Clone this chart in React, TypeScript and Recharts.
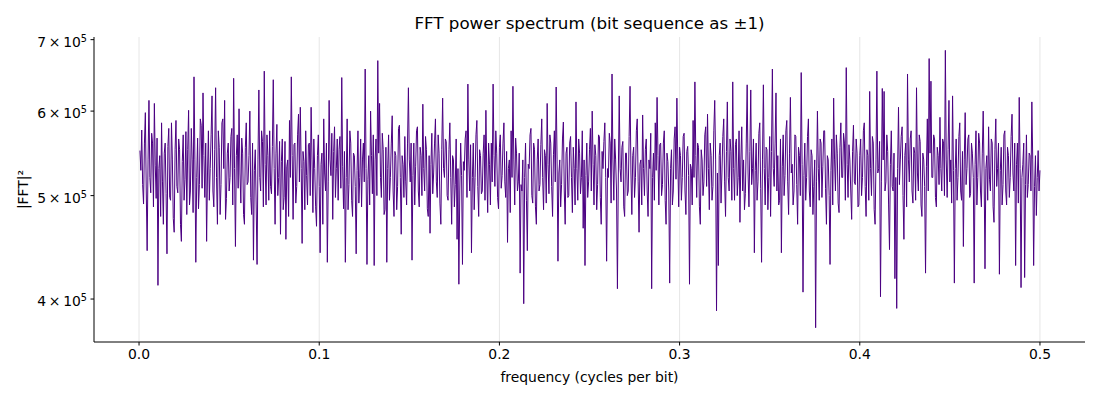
import React from 'react';
import { LineChart, Line, XAxis, YAxis, ReferenceLine } from 'recharts';

// |FFT|^2 values, in units of 1e3 (one per frequency bin)
const powerK = [
  551, 528, 576, 512, 491, 560, 598, 505, 444, 540, 614, 520, 503, 572, 560, 488, 610, 534, 497, 566,
  412, 530, 545, 478, 585, 515, 470, 548, 560, 502, 441, 556, 578, 498, 495, 585, 540, 476, 462, 552,
  588, 510, 503, 565, 552, 470, 453, 538, 570, 495, 518, 574, 480, 552, 601, 490, 505, 578, 540, 482,
  646, 540, 433, 520, 566, 486, 512, 590, 582, 508, 624, 545, 498, 560, 453, 525, 575, 495, 530, 570,
  620, 505, 488, 552, 631, 520, 470, 575, 555, 480, 512, 585, 590, 530, 614, 475, 497, 548, 560, 505,

  520, 568, 578, 490, 644, 530, 448, 545, 570, 508, 603, 525, 492, 566, 548, 480, 470, 555, 585, 512,
  515, 545, 600, 498, 480, 560, 435, 528, 552, 490, 431, 540, 628, 520, 505, 575, 562, 488, 654, 535,
  490, 570, 545, 495, 575, 510, 502, 556, 642, 530, 470, 548, 583, 500, 520, 562, 460, 538, 565, 485,
  498, 562, 455, 532, 540, 478, 588, 520, 646, 545, 475, 558, 560, 492, 510, 570, 596, 515, 605, 530,
  451, 550, 538, 485, 575, 522, 490, 558, 560, 500, 605, 540, 482, 565, 530, 488, 468, 545, 570, 510,

  442, 535, 548, 470, 590, 525, 505, 560, 433, 515, 614, 540, 522, 572, 475, 550, 580, 498, 530, 565,
  495, 552, 568, 508, 645, 532, 486, 550, 433, 520, 590, 485, 512, 575, 560, 495, 478, 548, 545, 510,
  441, 528, 575, 492, 520, 565, 488, 540, 560, 515, 657, 530, 431, 518, 545, 490, 600, 545, 502, 570,
  430, 540, 565, 500, 669, 548, 610, 520, 498, 572, 552, 480, 485, 555, 433, 530, 570, 495, 520, 560,
  594, 505, 478, 550, 545, 485, 510, 578, 582, 520, 460, 545, 535, 498, 568, 515, 490, 560, 631, 540,

  515, 560, 435, 522, 560, 490, 532, 575, 580, 505, 488, 555, 545, 500, 609, 530, 505, 568, 552, 486,
  478, 545, 461, 535, 572, 502, 525, 560, 590, 515, 498, 570, 548, 492, 470, 552, 617, 530, 520, 565,
  562, 500, 495, 552, 585, 520, 470, 545, 540, 488, 512, 565, 455, 530, 413, 505, 560, 522, 431, 538,
  528, 565, 575, 498, 636, 540, 505, 558, 442, 520, 560, 485, 520, 570, 588, 510, 478, 552, 545, 502,
  505, 548, 570, 495, 601, 525, 482, 560, 535, 490, 560, 515, 636, 545, 510, 575, 548, 498, 486, 555,

  570, 508, 522, 560, 585, 515, 498, 550, 452, 530, 540, 482, 575, 520, 633, 540, 490, 566, 548, 505,
  515, 548, 423, 512, 505, 540, 396, 520, 560, 495, 444, 535, 530, 570, 578, 500, 492, 560, 552, 488,
  470, 540, 565, 505, 512, 558, 590, 520, 485, 552, 545, 492, 610, 535, 502, 570, 560, 510, 478, 546,
  575, 515, 632, 540, 434, 525, 540, 488, 512, 565, 586, 505, 470, 548, 555, 498, 500, 560, 568, 520,
  482, 555, 530, 490, 612, 530, 495, 565, 548, 502, 520, 575, 466, 540, 430, 522, 560, 498, 515, 552,

  578, 505, 600, 535, 490, 558, 545, 485, 512, 570, 568, 498, 470, 550, 530, 562, 585, 520, 434, 530,
  520, 572, 560, 492, 650, 540, 495, 565, 540, 505, 409, 525, 620, 530, 515, 555, 562, 488, 478, 548,
  548, 500, 505, 568, 633, 525, 480, 545, 555, 498, 520, 575, 590, 515, 462, 535, 540, 490, 595, 530,
  500, 552, 565, 505, 478, 540, 530, 572, 409, 520, 548, 495, 585, 528, 618, 545, 490, 558, 560, 500,
  512, 560, 575, 495, 470, 548, 538, 505, 414, 530, 552, 490, 505, 565, 580, 518, 617, 540, 488, 555,

  545, 495, 520, 568, 572, 505, 480, 550, 556, 522, 413, 535, 530, 490, 588, 520, 639, 545, 498, 560,
  555, 488, 470, 552, 540, 500, 515, 570, 580, 510, 596, 530, 485, 560, 545, 495, 510, 575, 614, 540,
  390, 525, 430, 545, 560, 492, 525, 568, 590, 515, 478, 550, 612, 520, 505, 565, 550, 495, 639, 530,
  495, 558, 565, 500, 520, 575, 472, 540, 580, 505, 540, 485, 502, 560, 635, 525, 488, 550, 628, 512,
  530, 565, 442, 528, 560, 495, 515, 572, 585, 508, 433, 540, 635, 530, 490, 555, 552, 485, 520, 568,

  478, 550, 657, 530, 510, 560, 624, 505, 545, 490, 495, 565, 442, 532, 570, 500, 522, 575, 588, 515,
  480, 548, 618, 525, 535, 490, 505, 570, 568, 512, 470, 555, 545, 500, 652, 535, 406, 522, 560, 495,
  520, 568, 590, 505, 488, 552, 545, 480, 510, 540, 376, 515, 600, 530, 495, 565, 560, 498, 532, 575,
  575, 508, 470, 545, 540, 500, 431, 528, 565, 490, 617, 540, 505, 570, 548, 492, 482, 555, 585, 520,
  520, 572, 560, 495, 659, 535, 498, 558, 540, 505, 475, 550, 582, 515, 512, 565, 548, 488, 490, 545,

  565, 500, 520, 575, 585, 510, 478, 552, 545, 495, 626, 530, 500, 568, 560, 485, 470, 540, 654, 525,
  530, 562, 402, 515, 630, 540, 626, 505, 515, 570, 550, 490, 445, 535, 575, 510, 505, 548, 418, 520,
  392, 530, 605, 512, 540, 568, 580, 500, 455, 545, 560, 488, 650, 540, 515, 565, 575, 505, 492, 555,
  548, 495, 631, 525, 505, 570, 562, 490, 478, 548, 540, 510, 423, 532, 590, 505, 672, 548, 640, 520,
  520, 570, 565, 498, 488, 555, 545, 512, 592, 530, 505, 565, 560, 500, 684, 540, 498, 552, 614, 515,

  540, 492, 620, 528, 414, 530, 565, 495, 520, 568, 585, 505, 495, 550, 448, 540, 598, 512, 530, 565,
  570, 498, 502, 560, 548, 520, 414, 535, 575, 490, 520, 572, 560, 505, 488, 548, 600, 525, 427, 530,
  545, 495, 580, 518, 505, 565, 560, 488, 472, 552, 590, 510, 530, 560, 422, 528, 555, 490, 512, 570,
  575, 505, 490, 555, 545, 498, 520, 568, 596, 525, 505, 560, 430, 535, 560, 492, 618, 530, 410, 520,
  535, 560, 419, 512, 570, 498, 512, 548, 545, 505, 612, 540, 430, 510, 545, 479, 520, 551, 505, 528,
];

const N_BITS = 2000;
const xTicks = [0, 0.1, 0.2, 0.3, 0.4, 0.5];
const yTicks = [400, 500, 600, 700];
const yMantissa: Record<number, string> = { 400: '4', 500: '5', 600: '6', 700: '7' };

const data = powerK.map((p, i) => ({ f: (i + 1) / N_BITS, p }));

const FONT = 'DejaVu Sans';

const YTick = (props: any) => {
  const { x, y, payload } = props;
  return (
    <text x={x} y={y + 7} textAnchor="end" fontFamily={FONT} fontSize={13.9} fill="#000">
      <tspan>{yMantissa[payload.value] + '\u2009\u00d7\u200910'}</tspan>
      <tspan dy={-5} fontSize={9.7}>5</tspan>
    </text>
  );
};

const YLabel = (props: any) => {
  const vb = props.viewBox;
  const cx = vb.x + 15;
  const cy = vb.y + vb.height / 2;
  return (
    <text x={cx} y={cy} transform={`rotate(-90 ${cx} ${cy})`} textAnchor="middle" dominantBaseline="central"
      fontFamily={FONT} fontSize={13.9} fill="#000">|FFT|²</text>
  );
};

const XLabel = (props: any) => {
  const vb = props.viewBox;
  return (
    <text x={vb.x + vb.width / 2} y={vb.y + 35} textAnchor="middle" dominantBaseline="central"
      fontFamily={FONT} fontSize={13.9} fill="#000">frequency (cycles per bit)</text>
  );
};

export default function App() {
  return (
    <div style={{ position: 'relative', width: 1092, height: 384 }}>
      <div style={{ position: 'absolute', left: 86, width: 991, top: 5, lineHeight: '20px', textAlign: 'center',
        fontFamily: FONT, fontSize: 16.7, color: '#000' }}>
        FFT power spectrum (bit sequence as ±1)
      </div>
      <LineChart width={1092} height={384} data={data} margin={{ top: 29, right: 15, bottom: 0, left: 0 }}>
        <XAxis type="number" dataKey="f" domain={[-0.025, 0.525]} ticks={xTicks} allowDataOverflow
          tickFormatter={(v: number) => v.toFixed(1)} height={50}
          axisLine={{ stroke: '#000', strokeWidth: 1 }} tickLine={{ stroke: '#000', strokeWidth: 1 }}
          tickSize={3.5} tickMargin={3.5}
          tick={{ fill: '#000', fontFamily: FONT, fontSize: 13.9 }}
          label={<XLabel />} />
        <YAxis type="number" scale="log" domain={[364.6, 704]} ticks={yTicks} allowDataOverflow width={86}
          axisLine={{ stroke: '#000', strokeWidth: 1 }} tickLine={{ stroke: '#000', strokeWidth: 1 }}
          tickSize={3.5} tickMargin={3.5} tick={<YTick />} label={<YLabel />} />
        {xTicks.map((t) => (
          <ReferenceLine key={t} x={t} stroke="#e6e6e6" strokeWidth={1} />
        ))}
        <Line type="linear" dataKey="p" stroke="#4b0082" strokeWidth={1} dot={false} isAnimationActive={false} />
      </LineChart>
    </div>
  );
}
